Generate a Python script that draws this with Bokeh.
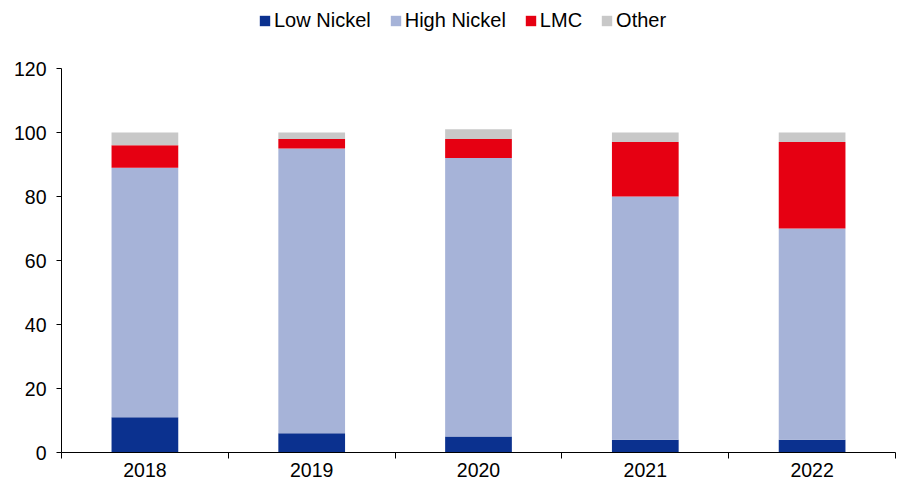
from bokeh.plotting import figure
from bokeh.models import ColumnDataSource, Range1d, FixedTicker, Legend, LegendItem
from bokeh.embed import file_html
from bokeh.resources import INLINE

years = ["2018", "2019", "2020", "2021", "2022"]
low_nickel = [11, 6, 5, 4, 4]
high_nickel = [78, 89, 87, 76, 66]
lmc = [7, 3, 6, 17, 27]
other = [4, 2, 3, 3, 3]

series = ["Low Nickel", "High Nickel", "LMC", "Other"]
colors = ["#0B318F", "#A6B3D8", "#E60012", "#C8C8C8"]
y_ticks = [0, 20, 40, 60, 80, 100, 120]

xs = list(range(1, len(years) + 1))
source = ColumnDataSource(dict(x=xs, **{"Low Nickel": low_nickel, "High Nickel": high_nickel,
                                        "LMC": lmc, "Other": other}))

# frame spans from the top of the canvas; axis line is bounded to 0..120
FRAME_H = 452
Y_TOP = 120 * FRAME_H / 384.0

p = figure(width=906, height=487, output_backend="svg", toolbar_location=None,
           x_range=Range1d(0.5, len(years) + 0.5), y_range=Range1d(0, Y_TOP),
           min_border_left=61, min_border_right=11, min_border_top=0, min_border_bottom=35)

renderers = p.vbar_stack(series, x="x", width=0.4, source=source, color=colors, line_color=None)

p.xgrid.visible = False
p.ygrid.visible = False
p.outline_line_color = None
p.background_fill_color = "white"
p.border_fill_color = "white"

FONT = "Liberation Sans"
FS = "19.5px"

xa = p.xaxis[0]
xa.ticker = FixedTicker(ticks=xs, minor_ticks=[i + 0.5 for i in range(0, len(years) + 1)])
xa.major_label_overrides = {x: y for x, y in zip(xs, years)}
xa.major_tick_out = 0
xa.major_tick_in = 0
xa.minor_tick_out = 6
xa.minor_tick_in = 0
xa.major_label_standoff = 4
xa.axis_line_color = "black"
xa.minor_tick_line_color = "black"
xa.major_label_text_font = FONT
xa.major_label_text_font_size = FS
xa.major_label_text_color = "black"

ya = p.yaxis[0]
ya.ticker = FixedTicker(ticks=y_ticks, minor_ticks=[])
ya.bounds = (0, 120)
ya.major_tick_out = 5
ya.major_tick_in = 0
ya.minor_tick_line_color = None
ya.major_label_standoff = 10
ya.axis_line_color = "black"
ya.major_tick_line_color = "black"
ya.major_label_text_font = FONT
ya.major_label_text_font_size = FS
ya.major_label_text_color = "black"

legend = Legend(items=[LegendItem(label=s, renderers=[r]) for s, r in zip(series, renderers)],
                orientation="horizontal", location=(197, 420),
                glyph_width=13, glyph_height=13, label_standoff=3, spacing=18,
                padding=0, margin=0, border_line_color=None, background_fill_alpha=0,
                label_text_font=FONT, label_text_font_size="20px", label_text_color="black")
p.add_layout(legend, "center")

open("out.html", "w").write(file_html(p, INLINE))
